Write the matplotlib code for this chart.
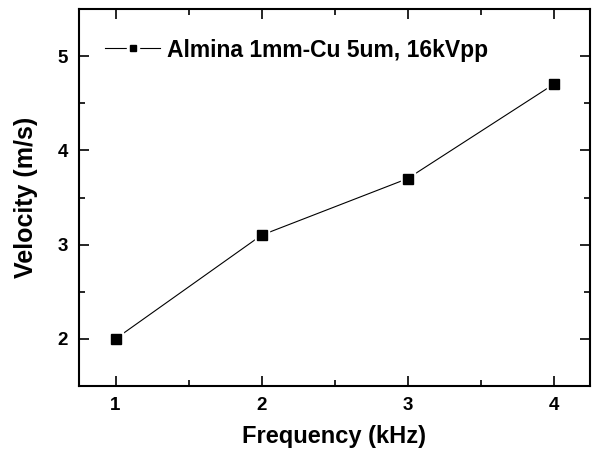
import matplotlib
matplotlib.use("Agg")
import matplotlib.pyplot as plt
from matplotlib.lines import Line2D
from matplotlib.legend_handler import HandlerTuple
from matplotlib.ticker import MultipleLocator

# data
frequency = [1, 2, 3, 4]
velocity = [2.0, 3.1, 3.7, 4.7]
series_label = "Almina 1mm-Cu 5um, 16kVpp"

plt.rcParams["font.family"] = ["Liberation Sans", "DejaVu Sans"]
plt.rcParams["font.weight"] = "bold"

fig = plt.figure(figsize=(5.92, 4.5), dpi=100)
ax = fig.add_axes([79 / 592, 1 - 386 / 450, (590 - 79) / 592, (386 - 9) / 450])

# line, then a white halo so the line stops short of each marker, then the marker
ax.plot(frequency, velocity, color="black", linewidth=0.8, zorder=2)
ax.plot(frequency, velocity, linestyle="none", marker="s", markersize=9.5,
        markerfacecolor="white", markeredgecolor="white", zorder=3)
ax.plot(frequency, velocity, linestyle="none", marker="s", markersize=6.5,
        color="black", zorder=4)

ax.set_xlim(0.75, 4.25)
ax.set_ylim(1.5, 5.5)
ax.xaxis.set_major_locator(MultipleLocator(1))
ax.xaxis.set_minor_locator(MultipleLocator(0.5))
ax.yaxis.set_major_locator(MultipleLocator(1))
ax.yaxis.set_minor_locator(MultipleLocator(0.5))
ax.tick_params(which="both", direction="in", top=True, right=True, width=1.2)
ax.tick_params(which="major", length=7, labelsize=13.5, pad=8)
ax.tick_params(which="minor", length=4)
for lbl in ax.get_xticklabels() + ax.get_yticklabels():
    lbl.set_fontweight("bold")
for sp in ax.spines.values():
    sp.set_linewidth(1.5)

ax.set_xlabel("Frequency (kHz)", fontsize=17, fontweight="bold", labelpad=8)
ax.set_ylabel("Velocity (m/s)", fontsize=18, fontweight="bold", labelpad=14)

# legend handle: broken line around a small marker
h_line = Line2D([], [], color="black", linewidth=0.8)
h_halo = Line2D([], [], linestyle="none", marker="s", markersize=8.5,
                markerfacecolor="white", markeredgecolor="white")
h_mark = Line2D([], [], linestyle="none", marker="s", markersize=5,
                color="black")
ax.legend([(h_line, h_halo, h_mark)], [series_label],
          handler_map={tuple: HandlerTuple(ndivide=1)},
          loc="center left", bbox_to_anchor=(26 / 511, (386 - 50) / 377),
          frameon=False, borderpad=0, borderaxespad=0,
          handlelength=2.4, handletextpad=0.3,
          prop={"weight": "bold", "size": 16.5})

fig.savefig("out.png", dpi=100)
